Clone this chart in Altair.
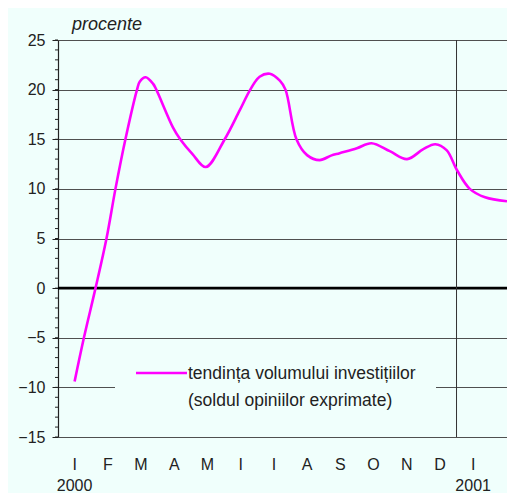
import altair as alt
import pandas as pd

# Data (month index: 0 = Jan 2000)
months_idx = [0.0, 0.28, 0.63, 0.96, 1.23, 1.53, 1.88, 1.96, 2.14, 2.36, 2.46, 2.96, 3.18,
              3.55, 3.95, 4.52, 4.97, 5.29, 5.57, 5.88, 6.18, 6.35, 6.68, 7.0, 7.38, 7.72,
              7.98, 8.5, 8.94, 9.49, 10.01, 10.5, 10.86, 11.2, 11.52, 11.9, 12.36, 13.02]
values = [-9.4, -5.0, 0.0, 5.0, 10.0, 15.0, 20.0, 20.8, 21.25, 20.6, 20.0, 16.2, 15.0,
          13.5, 12.2, 15.0, 17.9, 20.0, 21.3, 21.6, 20.9, 20.0, 15.0, 13.4, 12.9, 13.35,
          13.6, 14.1, 14.6, 13.8, 13.0, 14.0, 14.5, 13.9, 11.85, 10.0, 9.15, 8.75]

month_pos = list(range(13))
month_labels = ["I", "F", "M", "A", "M", "I", "I", "A", "S", "O", "N", "D", "I"]
year_pos = [0, 12]
year_labels = ["2000", "2001"]
y_major = [-15, -10, -5, 0, 5, 10, 15, 20, 25]
y_minor = list(range(-15, 26))
year_break = [11.5]
legend_gap = [-10]

series_name = ["tendința volumului investițiilor", "(soldul opiniilor exprimate)"]

W, H = 449, 397
FONT = "Liberation Sans"
BG = "#F0FFFC"
GRID = "#505050"
TXT = "#222222"

xscale = alt.Scale(domain=[-0.5, 13.02], nice=False, zero=False)
yscale = alt.Scale(domain=[-15, 25], nice=False, zero=False)
yaxis = alt.Axis(values=y_major, tickSize=6, tickColor=TXT, tickWidth=1,
                 domainColor=TXT, domainWidth=1.2,
                 labelFont=FONT, labelFontSize=16, labelColor=TXT, labelPadding=7,
                 grid=True, gridColor=GRID, gridWidth=1.1, title=None)


def X(field):
    return alt.X(field, scale=xscale, axis=None)


def Y(field):
    return alt.Y(field, scale=yscale, axis=yaxis)


df = pd.DataFrame({"m": months_idx, "v": values})

line = alt.Chart(df).mark_line(color="#FF00FF", strokeWidth=2.6, interpolate="catmull-rom").encode(
    x=X("m:Q"), y=Y("v:Q"))

minor = alt.Chart(pd.DataFrame({"v": y_minor})).mark_rule(color=TXT, strokeWidth=1).encode(
    x=alt.value(-3), x2=alt.value(0), y=Y("v:Q"))

zero = alt.Chart(pd.DataFrame({"v": [0]})).mark_rule(color="#000", strokeWidth=2.6).encode(
    x=alt.value(0), x2=alt.value(W), y=Y("v:Q"))

vrule = alt.Chart(pd.DataFrame({"m": year_break})).mark_rule(color="#333", strokeWidth=1).encode(
    x=X("m:Q"), y=alt.value(0), y2=alt.value(H))

legend_box = alt.Chart(pd.DataFrame({"v": legend_gap})).mark_rule(color=BG, strokeWidth=5).encode(
    x=alt.value(57), x2=alt.value(378), y=Y("v:Q"))
legend_line = alt.Chart(pd.DataFrame({"a": [0]})).mark_rule(color="#FF00FF", strokeWidth=2.6).encode(
    x=alt.value(78), x2=alt.value(129), y=alt.value(333))
legend_t1 = alt.Chart(pd.DataFrame({"t": [series_name[0]]})).mark_text(
    align="left", baseline="middle", font=FONT, fontSize=17.5, color=TXT).encode(
    x=alt.value(130), y=alt.value(334), text="t:N")
legend_t2 = alt.Chart(pd.DataFrame({"t": [series_name[1]]})).mark_text(
    align="left", baseline="middle", font=FONT, fontSize=17.5, color=TXT).encode(
    x=alt.value(130), y=alt.value(361), text="t:N")

unit = alt.Chart(pd.DataFrame({"t": ["procente"]})).mark_text(
    align="left", baseline="middle", font=FONT, fontSize=18, fontStyle="italic", color=TXT).encode(
    x=alt.value(14), y=alt.value(-15), text="t:N")

mlab = alt.Chart(pd.DataFrame({"m": month_pos, "t": month_labels})).mark_text(
    baseline="middle", font=FONT, fontSize=16, color=TXT).encode(
    x=X("m:Q"), y=alt.value(H + 28), text="t:N")
ylab = alt.Chart(pd.DataFrame({"m": year_pos, "t": year_labels})).mark_text(
    baseline="middle", font=FONT, fontSize=16, color=TXT).encode(
    x=X("m:Q"), y=alt.value(H + 49), text="t:N")

chart = alt.layer(zero, vrule, legend_box, minor, line, legend_line, legend_t1, legend_t2,
                  unit, mlab, ylab).properties(
    width=W, height=H,
    autosize=alt.AutoSizeParams(type="none"),
    padding={"left": 50, "top": 32, "right": 0, "bottom": 56},
    background=BG,
).configure_view(stroke=None)

chart.save("out.html", embed_options={"renderer": "svg", "actions": False})
